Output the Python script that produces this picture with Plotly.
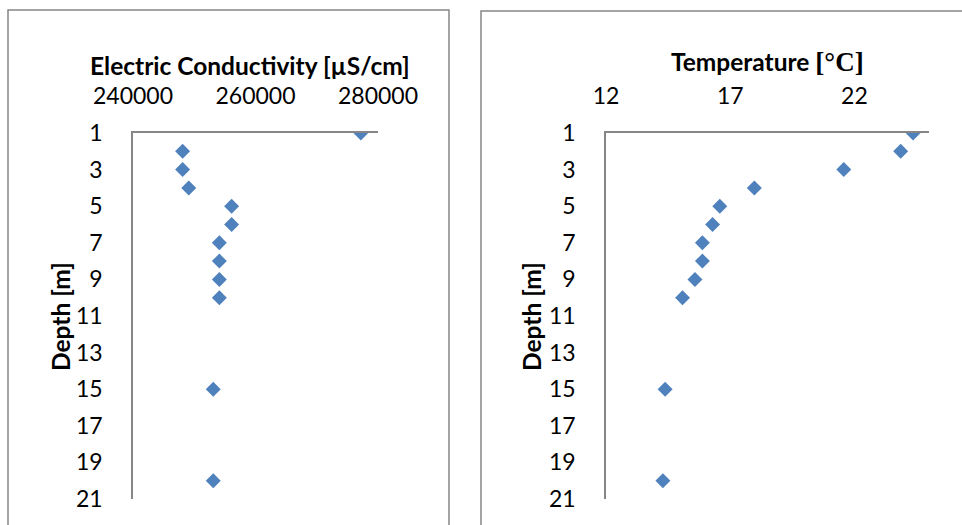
import plotly.graph_objects as go

depth = [1, 2, 3, 4, 5, 6, 7, 8, 9, 10, 15, 20]
ec = [277200, 248100, 248100, 249100, 256100, 256100, 254100, 254100, 254100, 254100, 253100, 253100]
temp = [24.36, 23.86, 21.57, 17.97, 16.58, 16.29, 15.88, 15.88, 15.58, 15.08, 14.38, 14.29]
ec_ticks = [240000, 260000, 280000]
temp_ticks = [12, 17, 22]
depth_ticks = [1, 3, 5, 7, 9, 11, 13, 15, 17, 19, 21]

W, H = 962, 525
FONT = "Lato"
BLUE = "#4F81BD"
GREY = "#868686"

def px(x):
    return x / W

def py(y):
    return 1 - y / H

fig = go.Figure()
fig.add_trace(go.Scatter(x=ec, y=depth, mode="markers", xaxis="x", yaxis="y",
                         marker=dict(symbol="diamond", size=11.5, color=BLUE), showlegend=False))
fig.add_trace(go.Scatter(x=temp, y=depth, mode="markers", xaxis="x2", yaxis="y2",
                         marker=dict(symbol="diamond", size=11.5, color=BLUE), showlegend=False))

tickfont = dict(family=FONT, size=23, color="#000000")
ydom = [py(499), py(133)]
common_x = dict(side="top", showline=True, linecolor=GREY, linewidth=1.5, showgrid=False,
                zeroline=False, ticks="", tickfont=tickfont, ticklabelstandoff=18, automargin=False)
common_y = dict(showline=True, linecolor=GREY, linewidth=1.5, showgrid=False, zeroline=False,
                ticks="", tickfont=tickfont, range=[21, 1], tickvals=depth_ticks,
                ticktext=[str(v) for v in depth_ticks], domain=ydom, ticklabelstandoff=24,
                automargin=False)

fig.update_layout(
    width=W, height=H, autosize=False,
    margin=dict(l=0, r=0, t=0, b=0, pad=0, autoexpand=False),
    paper_bgcolor="white", plot_bgcolor="white",
    xaxis=dict(common_x, domain=[px(133), px(378)], range=[240000, 280000],
               tickvals=ec_ticks, ticktext=[str(v) for v in ec_ticks], anchor="y"),
    yaxis=dict(common_y, anchor="x"),
    xaxis2=dict(common_x, domain=[px(606), px(929)], range=[12, 25],
                tickvals=temp_ticks, ticktext=[str(v) for v in temp_ticks], anchor="y2"),
    yaxis2=dict(common_y, anchor="x2"),
)

# panel frames
fig.add_shape(type="rect", xref="paper", yref="paper", x0=px(8), x1=px(449), y0=py(540), y1=py(10),
              line=dict(color=GREY, width=1.5), layer="below")
fig.add_shape(type="rect", xref="paper", yref="paper", x0=px(481), x1=px(975), y0=py(540), y1=py(11),
              line=dict(color=GREY, width=1.5), layer="below")

titlefont = dict(family=FONT, size=24.5, color="#000000")
fig.add_annotation(text="<b>Electric Conductivity [µS/cm]</b>", xref="paper", yref="paper",
                   x=px(250), y=py(66), showarrow=False, font=titlefont, xanchor="center", yanchor="middle")
fig.add_annotation(text="<b>Temperature <span style='font-family:Liberation Serif;font-size:27px'>[°C]</span></b>",
                   xref="paper", yref="paper",
                   x=px(767), y=py(62), showarrow=False, font=titlefont, xanchor="center", yanchor="middle")
for xc in (60, 531):
    fig.add_annotation(text="<b>Depth [m]</b>", xref="paper", yref="paper", x=px(xc), y=py(317),
                       showarrow=False, font=titlefont, textangle=-90, xanchor="center", yanchor="middle")

fig.write_html("out.html")
